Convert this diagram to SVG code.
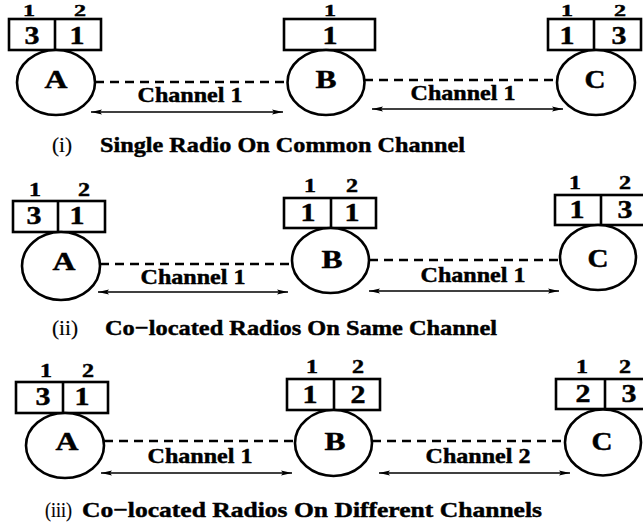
<svg xmlns="http://www.w3.org/2000/svg" width="643" height="531" viewBox="0 0 643 531">
<defs>
<style>
text{font-family:"Liberation Serif","Times New Roman",serif;font-weight:bold;fill:#000;text-anchor:middle;stroke:#000;stroke-width:0.45}
.lbl{font-size:18px}
.lbt{font-size:17px}
.num{font-size:25px}
.node{font-size:25px}
.ch{font-size:21px}
.cap{font-size:22px;text-anchor:start}
.capn{font-size:21px;font-weight:normal;text-anchor:start;stroke-width:0.2}
.box{fill:#fff;stroke:#000;stroke-width:2.6}
.div{stroke:#000;stroke-width:2.6}
.circ{fill:#fff;stroke:#000;stroke-width:2.6}
.dash{fill:none;stroke:#000;stroke-width:2.6;stroke-dasharray:9 6}
.arr{fill:none;stroke:#000;stroke-width:1.5;marker-start:url(#ah);marker-end:url(#ah)}
</style>
<marker id="ah" markerUnits="userSpaceOnUse" markerWidth="11" markerHeight="6" refX="11" refY="3" orient="auto-start-reverse">
<path d="M0,0.5 L11,3 L0,5.5 L2,3 z" fill="#000"/>
</marker>
</defs>

<!-- Panel (i) -->
<g id="i-A">
<text class="lbt" x="29" y="15.5" textLength="12" lengthAdjust="spacingAndGlyphs">1</text><text class="lbt" x="80" y="15.5" textLength="12" lengthAdjust="spacingAndGlyphs">2</text>
<rect class="box" x="9" y="19" width="92" height="31"/><line class="div" x1="55" y1="19" x2="55" y2="50"/>
<text class="num" x="32" y="44" textLength="15" lengthAdjust="spacingAndGlyphs">3</text><text class="num" x="77" y="44" textLength="15" lengthAdjust="spacingAndGlyphs">1</text>
<ellipse class="circ" cx="56" cy="82.5" rx="39" ry="32.5"/>
<text class="node" x="56" y="88" textLength="23" lengthAdjust="spacingAndGlyphs">A</text>
</g>
<g id="i-B">
<text class="lbt" x="330" y="15.5" textLength="12" lengthAdjust="spacingAndGlyphs">1</text>
<rect class="box" x="284" y="19" width="91" height="31"/>
<text class="num" x="330" y="44" textLength="15" lengthAdjust="spacingAndGlyphs">1</text>
<ellipse class="circ" cx="326" cy="82.5" rx="38.5" ry="32.5"/>
<text class="node" x="326" y="88" textLength="21" lengthAdjust="spacingAndGlyphs">B</text>
</g>
<g id="i-C">
<text class="lbt" x="567" y="15.5" textLength="12" lengthAdjust="spacingAndGlyphs">1</text><text class="lbt" x="620" y="15.5" textLength="12" lengthAdjust="spacingAndGlyphs">2</text>
<rect class="box" x="548" y="19" width="93" height="31"/><line class="div" x1="594" y1="19" x2="594" y2="50"/>
<text class="num" x="567" y="44" textLength="15" lengthAdjust="spacingAndGlyphs">1</text><text class="num" x="619" y="44" textLength="15" lengthAdjust="spacingAndGlyphs">3</text>
<ellipse class="circ" cx="596" cy="82.5" rx="39" ry="32.5"/>
<text class="node" x="595" y="88" textLength="21" lengthAdjust="spacingAndGlyphs">C</text>
</g>
<g id="i-conn">
<line class="dash" x1="95" y1="82" x2="287" y2="82"/>
<line class="dash" x1="364" y1="80" x2="557" y2="80"/>
<line class="arr" x1="91" y1="112" x2="283" y2="112"/>
<line class="arr" x1="372" y1="109" x2="563" y2="109"/>
<text class="ch" x="190" y="102" textLength="105" lengthAdjust="spacingAndGlyphs">Channel 1</text>
<text class="ch" x="463" y="100" textLength="105" lengthAdjust="spacingAndGlyphs">Channel 1</text>
</g>
<g id="i-caption">
<text class="capn" x="52" y="152" textLength="20" lengthAdjust="spacingAndGlyphs">(i)</text>
<text class="cap" x="100" y="152" textLength="365" lengthAdjust="spacingAndGlyphs">Single Radio On Common Channel</text>
</g>

<!-- Panel (ii) -->
<g id="ii-A">
<text class="lbl" x="35" y="196" textLength="12" lengthAdjust="spacingAndGlyphs">1</text><text class="lbl" x="84" y="196" textLength="12" lengthAdjust="spacingAndGlyphs">2</text>
<rect class="box" x="13" y="201" width="92" height="31"/><line class="div" x1="58" y1="201" x2="58" y2="232"/>
<text class="num" x="34" y="224" textLength="15" lengthAdjust="spacingAndGlyphs">3</text><text class="num" x="77" y="224" textLength="15" lengthAdjust="spacingAndGlyphs">1</text>
<ellipse class="circ" cx="61" cy="266" rx="39" ry="34"/>
<text class="node" x="64" y="270" textLength="23" lengthAdjust="spacingAndGlyphs">A</text>
</g>
<g id="ii-B">
<text class="lbl" x="310" y="192" textLength="12" lengthAdjust="spacingAndGlyphs">1</text><text class="lbl" x="352" y="192" textLength="12" lengthAdjust="spacingAndGlyphs">2</text>
<rect class="box" x="284" y="198" width="92" height="30"/><line class="div" x1="331" y1="198" x2="331" y2="228"/>
<text class="num" x="308" y="221" textLength="15" lengthAdjust="spacingAndGlyphs">1</text><text class="num" x="352" y="221" textLength="15" lengthAdjust="spacingAndGlyphs">1</text>
<ellipse class="circ" cx="330.5" cy="260.5" rx="38.5" ry="32.5"/>
<text class="node" x="332" y="268" textLength="21" lengthAdjust="spacingAndGlyphs">B</text>
</g>
<g id="ii-C">
<text class="lbl" x="575" y="189" textLength="12" lengthAdjust="spacingAndGlyphs">1</text><text class="lbl" x="625" y="189" textLength="12" lengthAdjust="spacingAndGlyphs">2</text>
<rect class="box" x="555" y="195" width="92" height="30"/><line class="div" x1="601" y1="195" x2="601" y2="225"/>
<text class="num" x="577" y="218" textLength="15" lengthAdjust="spacingAndGlyphs">1</text><text class="num" x="625" y="218" textLength="15" lengthAdjust="spacingAndGlyphs">3</text>
<ellipse class="circ" cx="598" cy="257.5" rx="38" ry="32.5"/>
<text class="node" x="598" y="267" textLength="21" lengthAdjust="spacingAndGlyphs">C</text>
</g>
<g id="ii-conn">
<line class="dash" x1="100" y1="264" x2="292" y2="264"/>
<line class="dash" x1="369" y1="260" x2="560" y2="260"/>
<line class="arr" x1="98" y1="292" x2="288" y2="292"/>
<line class="arr" x1="369" y1="291" x2="559" y2="291"/>
<text class="ch" x="193" y="284" textLength="105" lengthAdjust="spacingAndGlyphs">Channel 1</text>
<text class="ch" x="473" y="282" textLength="105" lengthAdjust="spacingAndGlyphs">Channel 1</text>
</g>
<g id="ii-caption">
<text class="capn" x="52" y="335" textLength="26" lengthAdjust="spacingAndGlyphs">(ii)</text>
<text class="cap" x="105" y="335" textLength="392" lengthAdjust="spacingAndGlyphs">Co−located Radios On Same Channel</text>
</g>

<!-- Panel (iii) -->
<g id="iii-A">
<text class="lbl" x="46" y="377" textLength="12" lengthAdjust="spacingAndGlyphs">1</text><text class="lbl" x="88" y="377" textLength="12" lengthAdjust="spacingAndGlyphs">2</text>
<rect class="box" x="16" y="382" width="92" height="31"/><line class="div" x1="63" y1="382" x2="63" y2="413"/>
<text class="num" x="43" y="405" textLength="15" lengthAdjust="spacingAndGlyphs">3</text><text class="num" x="82" y="405" textLength="15" lengthAdjust="spacingAndGlyphs">1</text>
<ellipse class="circ" cx="65" cy="445.5" rx="39" ry="32.5"/>
<text class="node" x="67" y="450" textLength="23" lengthAdjust="spacingAndGlyphs">A</text>
</g>
<g id="iii-B">
<text class="lbl" x="312" y="373" textLength="12" lengthAdjust="spacingAndGlyphs">1</text><text class="lbl" x="358" y="373" textLength="12" lengthAdjust="spacingAndGlyphs">2</text>
<rect class="box" x="287" y="379" width="93" height="31"/><line class="div" x1="334" y1="379" x2="334" y2="410"/>
<text class="num" x="310" y="403" textLength="15" lengthAdjust="spacingAndGlyphs">1</text><text class="num" x="358" y="403" textLength="15" lengthAdjust="spacingAndGlyphs">2</text>
<ellipse class="circ" cx="333.5" cy="443" rx="38.5" ry="33"/>
<text class="node" x="335" y="450" textLength="21" lengthAdjust="spacingAndGlyphs">B</text>
</g>
<g id="iii-C">
<text class="lbl" x="582" y="373" textLength="12" lengthAdjust="spacingAndGlyphs">1</text><text class="lbl" x="625" y="373" textLength="12" lengthAdjust="spacingAndGlyphs">2</text>
<rect class="box" x="556" y="379" width="92" height="30"/><line class="div" x1="605" y1="379" x2="605" y2="409"/>
<text class="num" x="583" y="402" textLength="15" lengthAdjust="spacingAndGlyphs">2</text><text class="num" x="629" y="402" textLength="15" lengthAdjust="spacingAndGlyphs">3</text>
<ellipse class="circ" cx="603" cy="442.5" rx="38" ry="33"/>
<text class="node" x="602" y="450" textLength="21" lengthAdjust="spacingAndGlyphs">C</text>
</g>
<g id="iii-conn">
<line class="dash" x1="104" y1="441" x2="295" y2="441"/>
<line class="dash" x1="372" y1="441" x2="565" y2="441"/>
<line class="arr" x1="101" y1="473" x2="292" y2="473"/>
<line class="arr" x1="379" y1="473" x2="570" y2="473"/>
<text class="ch" x="200" y="463" textLength="105" lengthAdjust="spacingAndGlyphs">Channel 1</text>
<text class="ch" x="478" y="463" textLength="105" lengthAdjust="spacingAndGlyphs">Channel 2</text>
</g>
<g id="iii-caption">
<text class="capn" x="45" y="517" textLength="27" lengthAdjust="spacingAndGlyphs">(iii)</text>
<text class="cap" x="82" y="517" textLength="460" lengthAdjust="spacingAndGlyphs">Co−located Radios On Different Channels</text>
</g>
</svg>
